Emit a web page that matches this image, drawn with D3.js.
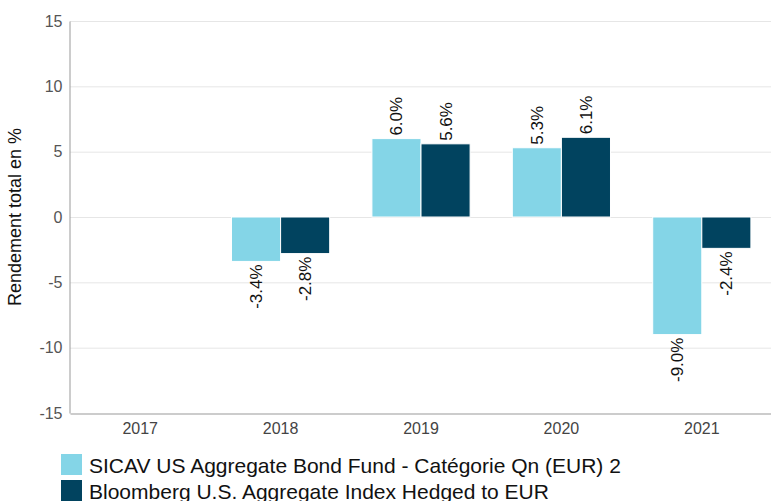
<!DOCTYPE html>
<html>
<head>
<meta charset="utf-8">
<script src="https://cdn.jsdelivr.net/npm/d3@7"></script>
<style>
  body { margin: 0; background: #fff; }
  svg { font-family: "Liberation Sans", Arial, sans-serif; }
</style>
</head>
<body>
<div id="container"></div>
<script>
/* CONSTANTS AND GLOBALS */
const width = 771,
  height = 501,
  margin = { top: 21, right: 0, bottom: 88, left: 70 };

const years = ["2017", "2018", "2019", "2020", "2021"];
const seriesNames = [
  "SICAV US Aggregate Bond Fund - Catégorie Qn (EUR) 2",
  "Bloomberg U.S. Aggregate Index Hedged to EUR"
];
const fundValues = [null, -3.4, 6.0, 5.3, -9.0];
const indexValues = [null, -2.8, 5.6, 6.1, -2.4];
const yTicks = [-15, -10, -5, 0, 5, 10, 15];
const colors = ["#84d5e7", "#01435f"];

const data = years.map((y, i) => ({
  year: y,
  values: [fundValues[i], indexValues[i]]
}));

const svg = d3.select("#container")
  .append("svg")
  .attr("width", width)
  .attr("height", height);

/* SCALES */
const xScale = d3.scaleBand()
  .domain(years)
  .range([margin.left, width - margin.right + 1])
  .paddingInner(0)
  .paddingOuter(0);

const xInner = d3.scaleBand()
  .domain([0, 1])
  .range([0, xScale.bandwidth()])
  .paddingOuter(0.43)
  .paddingInner(0);

const yScale = d3.scaleLinear()
  .domain([-15, 15])
  .range([height - margin.bottom, margin.top]);

// gridlines
svg.append("g")
  .selectAll("line")
  .data(yTicks.filter(d => d !== -15))
  .join("line")
  .attr("x1", margin.left)
  .attr("x2", width)
  .attr("y1", d => yScale(d) + 0.5)
  .attr("y2", d => yScale(d) + 0.5)
  .attr("stroke", "#e6e6e6");

// y axis (plain hyphen for negatives, like the original)
const yAxis = d3.axisLeft(yScale)
  .tickValues(yTicks)
  .tickFormat(d => String(d))
  .tickSize(0)
  .tickPadding(7);
svg.append("g")
  .attr("transform", `translate(${margin.left - 0.5}, 0)`)
  .call(yAxis)
  .call(g => g.select(".domain").attr("stroke", "#999"))
  .selectAll("text")
  .style("font-size", "16px")
  .attr("fill", "#555");

// x axis
const xAxis = d3.axisBottom(xScale).tickSize(0).tickPadding(9);
svg.append("g")
  .attr("transform", `translate(0, ${height - margin.bottom + 0.5})`)
  .call(xAxis)
  .call(g => g.select(".domain").attr("stroke", "#999"))
  .selectAll("text")
  .style("font-size", "16px")
  .attr("fill", "#444");

// axis title
svg.append("text")
  .attr("transform", `translate(21, ${yScale(0)}) rotate(-90)`)
  .attr("text-anchor", "middle")
  .style("font-size", "18px")
  .attr("fill", "#111")
  .text("Rendement total en %");

/* BARS */
const bars = [];
data.forEach(d => {
  d.values.forEach((v, s) => {
    if (v !== null) bars.push({ year: d.year, s: s, v: v });
  });
});

svg.selectAll(".bar")
  .data(bars)
  .join("rect")
  .attr("class", "bar")
  .attr("x", d => xScale(d.year) + xInner(d.s))
  .attr("y", d => yScale(Math.max(0, d.v)))
  .attr("width", xInner.bandwidth())
  .attr("height", d => Math.abs(yScale(d.v) - yScale(0)))
  .attr("fill", d => colors[d.s])
  .attr("stroke", "#fff")
  .attr("stroke-width", 1);

svg.selectAll(".label")
  .data(bars)
  .join("text")
  .attr("class", "label")
  .attr("transform", d => {
    const x = xScale(d.year) + xInner(d.s) + xInner.bandwidth() / 2 + 6;
    const y = d.v >= 0 ? yScale(d.v) - 3 : yScale(d.v) + 3;
    return `translate(${x}, ${y}) rotate(-90)`;
  })
  .attr("text-anchor", d => d.v >= 0 ? "start" : "end")
  .style("font-size", "17px")
  .attr("fill", "#111")
  .text(d => d.v.toFixed(1) + "%");

/* LEGEND */
const legend = svg.append("g")
  .selectAll("g")
  .data(seriesNames)
  .join("g")
  .attr("transform", (d, i) => `translate(61, ${454 + i * 26})`);

legend.append("rect")
  .attr("width", 21)
  .attr("height", 21)
  .attr("fill", (d, i) => colors[i]);

legend.append("text")
  .attr("x", 28)
  .attr("y", 19)
  .style("font-size", "21px")
  .attr("fill", "#111")
  .text(d => d);
</script>
</body>
</html>
